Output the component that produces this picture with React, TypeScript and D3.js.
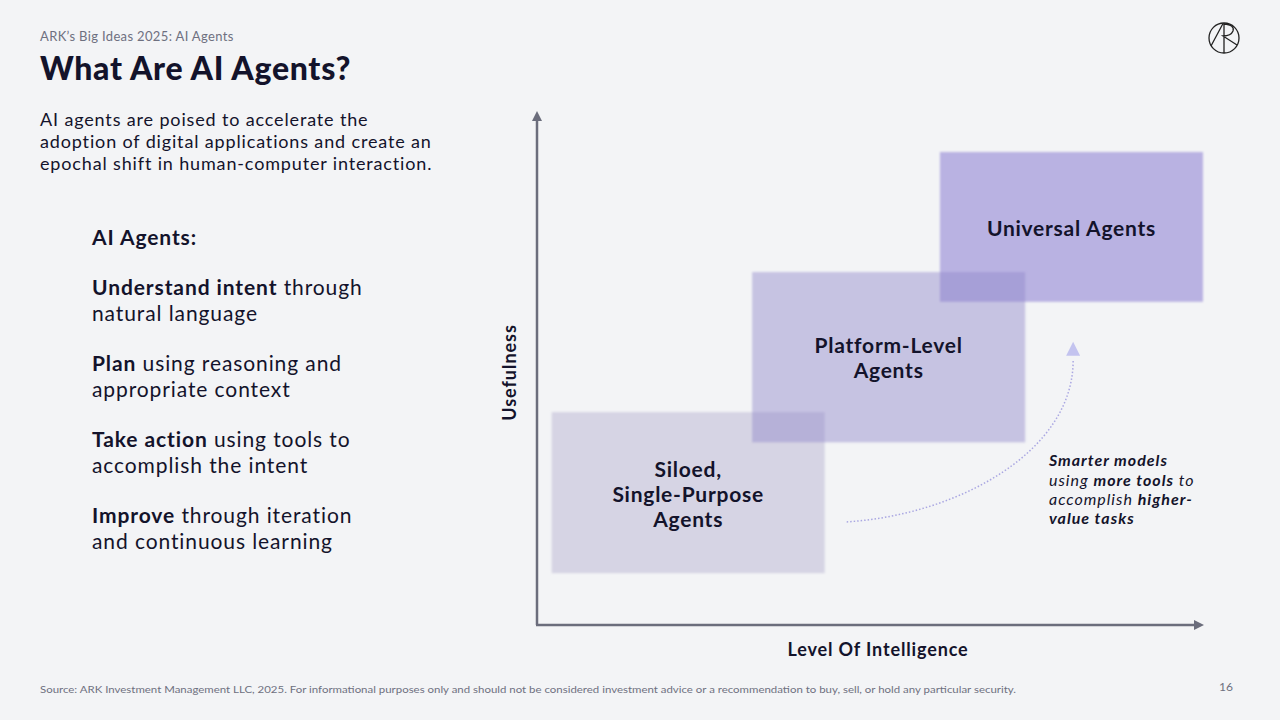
import * as d3 from 'd3'

// boxes: level of intelligence (x) and usefulness (y), 0-100 scale
const boxNames = ['Siloed', 'Universal', 'Platform']
const boxLabels = [
	['Siloed,', 'Single-Purpose', 'Agents'],
	['Universal Agents'],
	['Platform-Level', 'Agents'],
]
const boxX0 = [2.2, 60.5, 32.3]
const boxX1 = [43.2, 100, 73.3]
const boxY0 = [10.1, 63, 35.6]
const boxY1 = [41.5, 92.2, 68.8]
const boxFill = ['#d6d4e4', '#b9b2e2', 'rgba(145,135,201,0.45)']

// dotted trend curve
const curveX = [46.5, 63.5, 80.5, 80.5]
const curveY = [20.1, 21.5, 34, 51.5]
const arrowTip = [80.5, 55.2]

const listItems = [
	{ bold: 'Understand intent', rest: [' through', 'natural language'] },
	{ bold: 'Plan', rest: [' using reasoning and', 'appropriate context'] },
	{ bold: 'Take action', rest: [' using tools to', 'accomplish the intent'] },
	{ bold: 'Improve', rest: [' through iteration', 'and continuous learning'] },
]

const intro = [
	'AI agents are poised to accelerate the',
	'adoption of digital applications and create an',
	'epochal shift in human-computer interaction.',
]

const W = 1280
const H = 720
const ink = '#13132b'
const grey = '#6e7080'
const axisColor = '#6b6d7c'
const font = 'Lato, "Noto Sans", sans-serif'

export default function App() {
	const x = d3.scaleLinear().domain([0, 100]).range([537, 1203])
	const y = d3.scaleLinear().domain([0, 100]).range([625, 112])

	const pts = curveX.map((v, i) => [x(v), y(curveY[i])])
	const curvePath = `M${pts[0][0]},${pts[0][1]} C${pts[1][0]},${pts[1][1]} ${pts[2][0]},${pts[2][1]} ${pts[3][0]},${pts[3][1]}`
	const tx = x(arrowTip[0])
	const ty = y(arrowTip[1])

	return (
		<svg
			width={W}
			height={H}
			viewBox={`0 0 ${W} ${H}`}
			style={{ position: 'absolute', left: 0, top: 0, background: '#f3f4f6', fontFamily: font }}
		>
			<defs>
				<filter id="soft" x="-5%" y="-5%" width="110%" height="110%">
					<feGaussianBlur stdDeviation="1.3" />
				</filter>
			</defs>
			<rect width={W} height={H} fill="#f3f4f6" />

			{/* header */}
			<text x={40} y={41} fontSize={13} fill={grey} letterSpacing={0.35}>
				ARK’s Big Ideas 2025: AI Agents
			</text>
			<text x={40} y={80} fontSize={32} fontWeight={900} fill={ink} letterSpacing={0.7}>
				What Are AI Agents?
			</text>

			{/* logo */}
			<g fill="none" stroke="#222" strokeWidth={1.3}>
				<circle cx={1224} cy={38} r={15} />
				<path d="M1211,46 L1223,23.5 M1224,23 L1224,53 M1224,24 Q1235,25 1233,31 Q1231,36 1223,36 L1237,45" />
			</g>

			{/* intro paragraph */}
			{intro.map((t, i) => (
				<text key={i} x={40} y={126 + i * 22} fontSize={18} fill={ink} letterSpacing={0.85}>
					{t}
				</text>
			))}

			{/* list */}
			<g fontSize={21} fill={ink} letterSpacing={0.9}>
				<text x={92} y={245} fontWeight={700}>
					AI Agents:
				</text>
				{listItems.map((d, i) => (
					<g key={i}>
						<text x={92} y={295 + i * 76}>
							<tspan fontWeight={700}>{d.bold}</tspan>
							{d.rest[0]}
						</text>
						<text x={92} y={321 + i * 76}>
							{d.rest[1]}
						</text>
					</g>
				))}
			</g>

			{/* boxes */}
			{boxNames.map((n, i) => (
				<rect
					key={n}
					x={x(boxX0[i])}
					y={y(boxY1[i])}
					width={x(boxX1[i]) - x(boxX0[i])}
					height={y(boxY0[i]) - y(boxY1[i])}
					fill={boxFill[i]}
					filter="url(#soft)"
				/>
			))}
			{boxNames.map((n, i) => {
				const cx = (x(boxX0[i]) + x(boxX1[i])) / 2
				const lines = boxLabels[i]
				const top = i === 0 ? 477 : i === 1 ? 236 : 353
				return (
					<g key={n + 'l'}>
						{lines.map((t, j) => (
							<text
								key={j}
								x={cx}
								y={top + j * 25}
								textAnchor="middle"
								fontSize={21}
								fontWeight={700}
								fill={ink}
								letterSpacing={0.75}
							>
								{t}
							</text>
						))}
					</g>
				)
			})}

			{/* trend curve */}
			<path
				d={curvePath}
				fill="none"
				stroke="#aaa7e2"
				strokeWidth={1.5}
				strokeDasharray="1.5 2"
			/>
			<path d={`M${tx},${ty} L${tx - 7},${ty + 14} L${tx + 7},${ty + 14} Z`} fill="#c3c3ef" />

			{/* annotation */}
			<g fontSize={16} fontStyle="italic" fill={ink} letterSpacing={1}>
				<text x={1049} y={466}>
					<tspan fontWeight={700}>Smarter models</tspan>
				</text>
				<text x={1049} y={486}>
					using <tspan fontWeight={700}>more tools</tspan> to
				</text>
				<text x={1049} y={505}>
					accomplish <tspan fontWeight={700}>higher-</tspan>
				</text>
				<text x={1049} y={524}>
					<tspan fontWeight={700}>value tasks</tspan>
				</text>
			</g>

			{/* axes */}
			<defs>
				<marker id="ah" viewBox="0 0 10 10" refX="5" refY="5" markerWidth="4" markerHeight="4" orient="auto">
					<path d="M0,0 L10,5 L0,10 Z" fill={axisColor} />
				</marker>
			</defs>
			<line x1={x(0)} y1={y(0)} x2={x(0)} y2={y(100) + 4} stroke={axisColor} strokeWidth={2.5} markerEnd="url(#ah)" />
			<line x1={x(0) - 1} y1={y(0)} x2={x(100) - 4} y2={y(0)} stroke={axisColor} strokeWidth={2.5} markerEnd="url(#ah)" />

			<text
				transform={`translate(516,${(y(0) + y(100)) / 2 + 4}) rotate(-90)`}
				textAnchor="middle"
				fontSize={18}
				fontWeight={700}
				fill={ink}
				letterSpacing={0.95}
			>
				Usefulness
			</text>
			<text x={878} y={656} textAnchor="middle" fontSize={18} fontWeight={700} fill={ink} letterSpacing={0.85}>
				Level Of Intelligence
			</text>

			{/* footer */}
			<text x={40} y={693} fontSize={10} fill={grey} textLength={976} lengthAdjust="spacingAndGlyphs">
				Source: ARK Investment Management LLC, 2025. For informational purposes only and should not be considered investment advice or a recommendation to buy, sell, or hold any particular security.
			</text>
			<text x={1219} y={691} fontSize={12} fill={grey}>
				16
			</text>
		</svg>
	)
}
